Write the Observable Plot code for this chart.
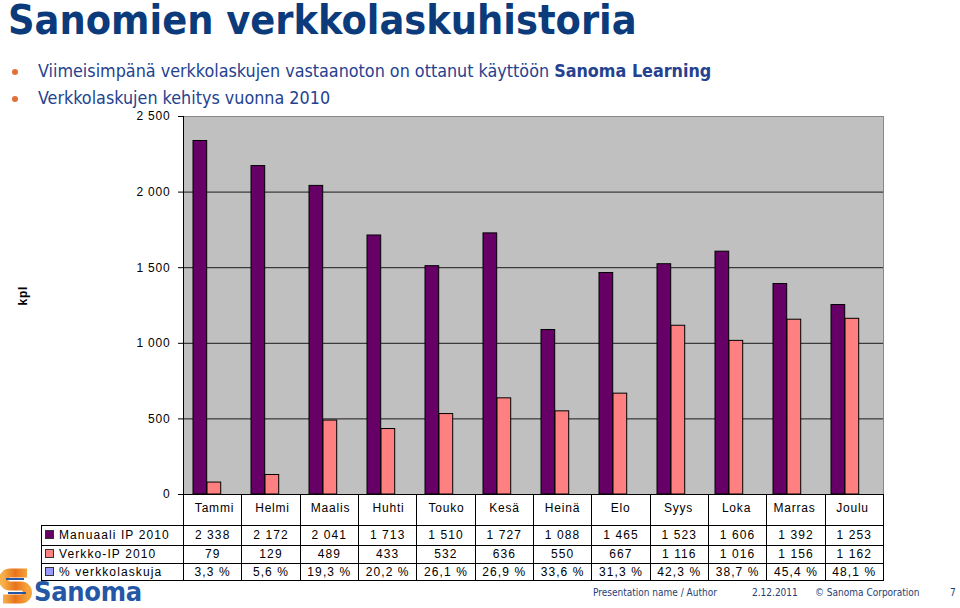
<!DOCTYPE html>
<html>
<head>
<meta charset="utf-8">
<script src="https://cdn.jsdelivr.net/npm/d3@7"></script>
<script src="https://cdn.jsdelivr.net/npm/@observablehq/plot@0.6"></script>
<style>
  html, body { margin: 0; padding: 0; background: #fff; }
  body { width: 960px; height: 608px; position: relative; overflow: hidden; }
  #title { position: absolute; left: 8px; top: 0px; line-height: 41px; font-family: "DejaVu Sans Condensed", "DejaVu Sans", sans-serif; font-weight: bold; font-size: 41px; color: #0b3b7b; white-space: nowrap; }
  .bullet { position: absolute; left: 38px; line-height: 20px; font-family: "DejaVu Sans Condensed", "DejaVu Sans", sans-serif; font-size: 17.8px; color: #24428f; white-space: nowrap; }
  .bullet::before { content: ""; position: absolute; left: -26px; top: 8px; width: 6px; height: 6px; border-radius: 50%; background: #e2703a; }
  #chart { position: absolute; left: 0; top: 0; }
  #chart svg text { letter-spacing: 0.8px; }
  #tbl { position: absolute; left: 41px; top: 494px; border-collapse: collapse; table-layout: fixed; font-family: "Liberation Sans", Arial, sans-serif; font-size: 12px; letter-spacing: 1.1px; color: #000; }
  #tbl td { padding: 0; border: 1px solid #000; text-align: center; white-space: nowrap; overflow: hidden; }
  #tbl td.lab { text-align: left; padding-left: 3px; }
  #tbl td.blank { border: none; border-bottom: 1px solid #000; }
  .sw { display: inline-block; width: 7px; height: 7px; border: 1px solid #333; margin-right: 5px; vertical-align: 0px; }
  #logo { position: absolute; left: 0; top: 566px; }
  #logotext { position: absolute; left: 34px; top: 581px; line-height: 22px; font-family: "DejaVu Sans Condensed", "DejaVu Sans", sans-serif; font-weight: bold; font-size: 27px; color: #2457a6; letter-spacing: -0.3px; }
  .foot { position: absolute; top: 587px; font-family: "DejaVu Sans Condensed", "DejaVu Sans", sans-serif; font-size: 10px; color: #243e74; white-space: nowrap; }
</style>
</head>
<body>
<div id="title">Sanomien verkkolaskuhistoria</div>
<div class="bullet" style="top:61px">Viimeisimpänä verkkolaskujen vastaanoton on ottanut käyttöön <b>Sanoma Learning</b></div>
<div class="bullet" style="top:88px">Verkkolaskujen kehitys vuonna 2010</div>
<div id="chart"></div>
<table id="tbl"></table>
<svg id="logo" width="32" height="42" viewBox="0 0 32 42">
  <defs>
    <linearGradient id="og" x1="0" x2="1" y1="0" y2="0">
      <stop offset="0" stop-color="#f7b04a"/><stop offset="0.5" stop-color="#e8731c"/><stop offset="1" stop-color="#f6a33c"/>
    </linearGradient>
  </defs>
  <path d="M27,7 H10 a6.5,6.5 0 0 0 0,13 H21 a6.5,6.5 0 0 1 0,13 H3" fill="none" stroke="url(#og)" stroke-width="9"/>
  <path d="M6,13 H24 M8,27 H26" stroke="#2457a6" stroke-width="2"/>
</svg>
<div id="logotext">Sanoma</div>
<div class="foot" style="left:593px">Presentation name / Author</div>
<div class="foot" style="left:752px">2.12.2011</div>
<div class="foot" style="left:815px">© Sanoma Corporation</div>
<div class="foot" style="left:950px">7</div>
<script>
const months = ["Tammi","Helmi","Maalis","Huhti","Touko","Kesä","Heinä","Elo","Syys","Loka","Marras","Joulu"];
const manuaali = [2338,2172,2041,1713,1510,1727,1088,1465,1523,1606,1392,1253];
const verkko = [79,129,489,433,532,636,550,667,1116,1016,1156,1162];
const pct = [3.3,5.6,19.3,20.2,26.1,26.9,33.6,31.3,42.3,38.7,45.4,48.1];
const seriesNames = ["Manuaali IP 2010","Verkko-IP 2010","% verkkolaskuja"];
const seriesColors = ["#660066","#ff8080","#9999ff"];
const yTicks = [0,500,1000,1500,2000,2500];
const yLabel = "kpl";

const fmtNum = n => d3.format(",")(n).replace(/,/g, " ");
const fmtPct = v => v.toFixed(1).replace(".", ",") + " %";

const rows = months.map((m, i) => ({month: m, manuaali: manuaali[i], verkko: verkko[i], pct: pct[i]}));

const chart = Plot.plot({
  width: 960,
  height: 523,
  marginTop: 116,
  marginBottom: 29,
  marginLeft: 183,
  marginRight: 77,
  x: {type: "band", domain: months, padding: 0},
  y: {domain: [0, 2500]},
  style: {fontFamily: "Liberation Sans, Arial, sans-serif", background: "transparent", color: "#000"},
  marks: [
    Plot.frame({fill: "#c0c0c0", stroke: "none"}),
    Plot.ruleY(yTicks.filter(d => d > 0), {stroke: "#1a1a1a", strokeWidth: 1}),
    Plot.barY(rows, {x: "month", y: "manuaali", fill: seriesColors[0], stroke: "#000", strokeWidth: 1, insetLeft: 8, insetRight: 36.3}),
    Plot.barY(rows, {x: "month", y: "verkko", fill: seriesColors[1], stroke: "#000", strokeWidth: 1, insetLeft: 22, insetRight: 22.3}),
    Plot.frame({stroke: "#888"}),
    Plot.frame({anchor: "left", stroke: "#000"}),
    Plot.ruleY([0], {stroke: "#000"}),
    Plot.axisY({ticks: yTicks, tickFormat: fmtNum, tickSize: 5, tickPadding: 8, fontSize: 12, label: null}),
    Plot.text([yLabel], {frameAnchor: "left", dx: -160, rotate: -90, fontSize: 12, fontWeight: "bold", text: d => d}),
    Plot.axisX({tickSize: 0, tickPadding: 9, fontSize: 12, label: null})
  ]
});
document.getElementById("chart").appendChild(chart);

// data table below the chart
const tbl = document.getElementById("tbl");
const colgroup = document.createElement("colgroup");
const c0 = document.createElement("col"); c0.style.width = "142px"; colgroup.appendChild(c0);
months.forEach(() => { const c = document.createElement("col"); c.style.width = (700 / 12) + "px"; colgroup.appendChild(c); });
tbl.appendChild(colgroup);
const hdr = document.createElement("tr");
hdr.style.height = "31px";
const blank = document.createElement("td"); blank.className = "blank"; hdr.appendChild(blank);
months.forEach(() => { const td = document.createElement("td"); td.style.borderTop = "none"; hdr.appendChild(td); });
tbl.appendChild(hdr);
const rowData = [manuaali.map(fmtNum), verkko.map(fmtNum), pct.map(fmtPct)];
const rowHeights = [20, 18, 17];
rowData.forEach((vals, r) => {
  const tr = document.createElement("tr");
  tr.style.height = rowHeights[r] + "px";
  const lab = document.createElement("td");
  lab.className = "lab";
  const sw = document.createElement("span");
  sw.className = "sw"; sw.style.background = seriesColors[r];
  lab.appendChild(sw);
  lab.appendChild(document.createTextNode(seriesNames[r]));
  tr.appendChild(lab);
  vals.forEach(v => { const td = document.createElement("td"); td.textContent = v; tr.appendChild(td); });
  tbl.appendChild(tr);
});
</script>
</body>
</html>
